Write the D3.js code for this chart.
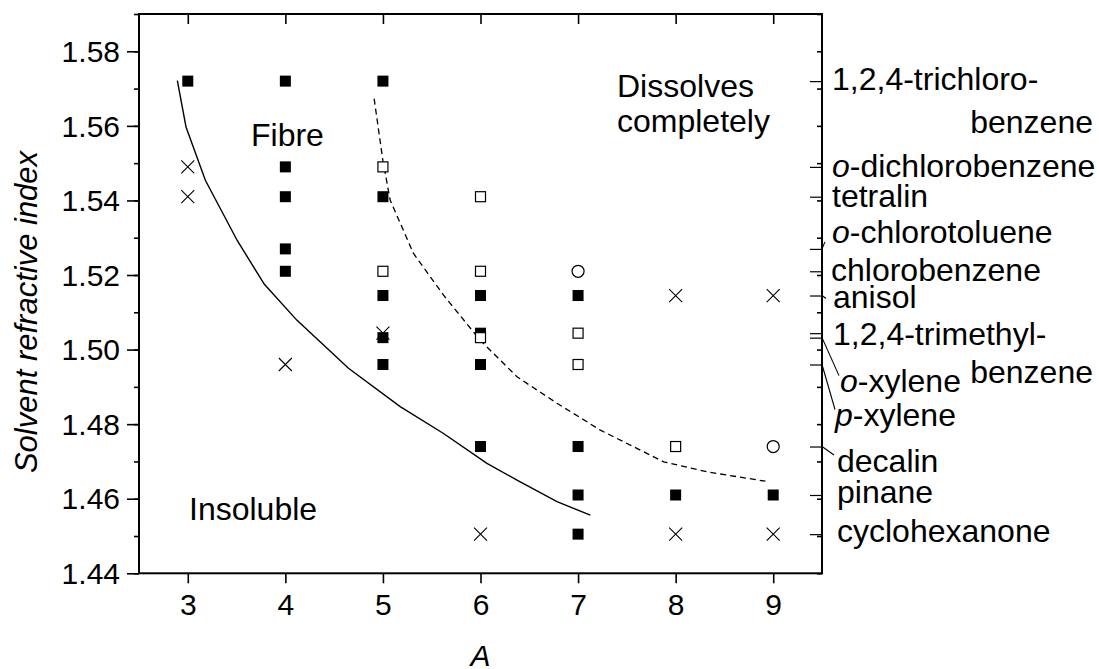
<!DOCTYPE html>
<html>
<head>
<meta charset="utf-8">
<script src="https://cdn.jsdelivr.net/npm/d3@7"></script>
<style>
body { margin: 0; background: #fff; }
text { font-family: "Liberation Sans", Arial, Helvetica, sans-serif; fill: #000; }
</style>
</head>
<body>
<svg id="chart" width="1099" height="669"></svg>
<script>
// x axis: A, y axis: solvent refractive index
const aTicks = [3, 4, 5, 6, 7, 8, 9];
const nTicks = [1.44, 1.46, 1.48, 1.50, 1.52, 1.54, 1.56, 1.58];

// solvents on the right axis
const solventNames = ['1,2,4-trichloro-', 'o-dichlorobenzene', 'tetralin', 'o-chlorotoluene',
    'chlorobenzene', 'anisol', '1,2,4-trimethyl-', 'o-xylene', 'p-xylene', 'decalin', 'pinane', 'cyclohexanone'];
const solventSecond = ['benzene', '', '', '', '', '', 'benzene', '', '', '', '', ''];
const solventN = [1.572, 1.549, 1.541, 1.527, 1.521, 1.5145, 1.5044, 1.5032, 1.496, 1.474, 1.461, 1.4505];

// markers
const filledSq = [[3, 1.572], [4, 1.572], [4, 1.549], [4, 1.541], [4, 1.527], [4, 1.521],
    [5, 1.572], [5, 1.541], [5, 1.5145], [5, 1.5032], [5, 1.496],
    [6, 1.5145], [6, 1.5044], [6, 1.496], [6, 1.474],
    [7, 1.5145], [7, 1.474], [7, 1.461], [7, 1.4505], [8, 1.461], [9, 1.461]];
const openSq = [[5, 1.549], [5, 1.521], [6, 1.541], [6, 1.521], [6, 1.5032],
    [7, 1.5044], [7, 1.496], [8, 1.474]];
const openCirc = [[7, 1.521], [9, 1.474]];
const crosses = [[3, 1.549], [3, 1.541], [4, 1.496], [5, 1.5044], [6, 1.4505],
    [8, 1.5145], [8, 1.4505], [9, 1.5145], [9, 1.4505]];

// boundary curves
const solidA = [2.893, 2.982, 3.18, 3.508, 3.785, 4.117, 4.647, 5.177, 5.621, 6.066, 6.374, 6.784, 7.126];
const solidN = [1.5721, 1.5597, 1.5454, 1.5292, 1.5175, 1.5079, 1.495, 1.4847, 1.4775, 1.4695, 1.465, 1.4592, 1.4556];
const dashA = [4.91, 4.999, 5.074, 5.313, 5.621, 5.997, 6.374, 6.784, 7.228, 7.877, 8.322, 8.92];
const dashN = [1.5673, 1.5508, 1.5401, 1.5258, 1.5146, 1.5025, 1.4927, 1.4856, 1.4784, 1.4699, 1.4672, 1.4647];

// label layout (px) for the solvent names
const labelX = [832, 832, 832, 832, 831, 833, 833, 840, 835, 837, 837, 837];
const labelDy = [9, 10, 10, -5.5, 10, 12.6, 12, 54, 62, 25, 8, 7.5];
const secondDy = [51.6, 0, 0, 0, 0, 0, 50, 0, 0, 0, 0, 0];
const leaderEnd = [null, null, null, [3, -7], null, [4, 3], null, [17, 38], [13, 45], [12, 8.5], null, null];

const mLeft = 139, mRight = 822, mTop = 14, mBottom = 573.3;

let svg = d3.select('#chart');

let x = d3.scaleLinear().domain([2.5, 9.5]).range([mLeft, mRight]);
let y = d3.scaleLinear().domain([1.44, 1.59]).range([mBottom, mTop]);

const styleAxis = (g) => {
    g.select('.domain').remove();
    g.selectAll('line').attr('stroke', '#000').attr('stroke-width', 1.6);
};

// left axis: major + minor
svg.append('g').attr('transform', `translate(${mLeft},0)`)
    .call(d3.axisLeft(y).tickValues(nTicks).tickSize(12).tickPadding(7).tickFormat(d3.format('.2f')))
    .call(styleAxis)
    .call(g => g.selectAll('text').attr('font-size', 30).attr('dy', '0.34em'));
svg.append('g').attr('transform', `translate(${mLeft},0)`)
    .call(d3.axisLeft(y).ticks(15).tickSize(5).tickFormat(''))
    .call(styleAxis);

// bottom axis
svg.append('g').attr('transform', `translate(0,${mBottom})`)
    .call(d3.axisBottom(x).tickValues(aTicks).tickSize(10).tickPadding(10).tickFormat(d3.format('d')))
    .call(styleAxis)
    .call(g => g.selectAll('text').attr('font-size', 30).attr('dy', '0.71em'));

// top axis, ticks inward
svg.append('g').attr('transform', `translate(0,${mTop})`)
    .call(d3.axisTop(x).tickValues(aTicks).tickSize(-10).tickFormat(''))
    .call(styleAxis);

// right axis: small inward ticks + solvent ticks
svg.append('g').attr('transform', `translate(${mRight},0)`)
    .call(d3.axisRight(y).ticks(15).tickSize(-5).tickFormat(''))
    .call(styleAxis);
svg.append('g').attr('transform', `translate(${mRight},0)`)
    .call(d3.axisRight(y).tickValues(solventN).tickSize(-12).tickFormat(''))
    .call(styleAxis)
    .call(g => g.selectAll('line').attr('stroke-width', 1.2));

// frame
svg.append('rect')
    .attr('x', mLeft).attr('y', mTop)
    .attr('width', mRight - mLeft).attr('height', mBottom - mTop)
    .attr('fill', 'none').attr('stroke', '#000').attr('stroke-width', 2);

// axis titles
svg.append('text')
    .attr('x', (mLeft + mRight) / 2).attr('y', 666)
    .attr('text-anchor', 'middle').attr('font-size', 30).attr('font-style', 'italic')
    .text('A');
svg.append('text')
    .attr('transform', 'translate(37,312) rotate(-90)')
    .attr('text-anchor', 'middle').attr('font-size', 31).attr('font-style', 'italic')
    .text('Solvent refractive index');

// curves
let line = d3.line().x(d => x(d[0])).y(d => y(d[1]));
svg.append('path')
    .attr('d', line(solidA.map((a, i) => [a, solidN[i]])))
    .attr('fill', 'none').attr('stroke', '#000').attr('stroke-width', 1.4);
svg.append('path')
    .attr('d', line(dashA.map((a, i) => [a, dashN[i]])))
    .attr('fill', 'none').attr('stroke', '#000').attr('stroke-width', 1.3)
    .attr('stroke-dasharray', '6,4');

// markers
let cr = 6.5;
svg.append('g').selectAll('path')
    .data(crosses).enter().append('path')
    .attr('d', d => `M${x(d[0]) - cr},${y(d[1]) - cr}L${x(d[0]) + cr},${y(d[1]) + cr}M${x(d[0]) - cr},${y(d[1]) + cr}L${x(d[0]) + cr},${y(d[1]) - cr}`)
    .attr('stroke', '#000').attr('stroke-width', 1.1).attr('fill', 'none');

svg.append('g').selectAll('rect')
    .data(filledSq).enter().append('rect')
    .attr('x', d => x(d[0]) - 5.5).attr('y', d => y(d[1]) - 5.5)
    .attr('width', 11).attr('height', 11).attr('fill', '#000');

svg.append('g').selectAll('rect')
    .data(openSq).enter().append('rect')
    .attr('x', d => x(d[0]) - 5).attr('y', d => y(d[1]) - 5)
    .attr('width', 10).attr('height', 10)
    .attr('fill', '#fff').attr('stroke', '#000').attr('stroke-width', 1.2);

svg.append('g').selectAll('circle')
    .data(openCirc).enter().append('circle')
    .attr('cx', d => x(d[0])).attr('cy', d => y(d[1])).attr('r', 6)
    .attr('fill', '#fff').attr('stroke', '#000').attr('stroke-width', 1.2);

// region annotations
svg.append('text').attr('x', 251).attr('y', 146).attr('font-size', 32).text('Fibre');
svg.append('text').attr('x', 189).attr('y', 520).attr('font-size', 32).text('Insoluble');
svg.append('text').attr('x', 617).attr('y', 97).attr('font-size', 32).text('Dissolves');
svg.append('text').attr('x', 617).attr('y', 132).attr('font-size', 32).text('completely');

// solvent labels
let labels = svg.append('g');
solventNames.forEach((name, i) => {
    let ty = y(solventN[i]);
    let t = labels.append('text')
        .attr('x', labelX[i]).attr('y', ty + labelDy[i]).attr('font-size', 32);
    let m = name.match(/^([op])(-.*)$/);
    if (m) {
        t.append('tspan').attr('font-style', 'italic').text(m[1]);
        t.append('tspan').text(m[2]);
    } else {
        t.text(name);
    }
    if (solventSecond[i]) {
        labels.append('text')
            .attr('x', 1093).attr('y', ty + secondDy[i])
            .attr('text-anchor', 'end').attr('font-size', 32)
            .text(solventSecond[i]);
    }
    if (leaderEnd[i]) {
        labels.append('line')
            .attr('x1', mRight).attr('y1', ty)
            .attr('x2', mRight + leaderEnd[i][0]).attr('y2', ty + leaderEnd[i][1])
            .attr('stroke', '#000').attr('stroke-width', 1.1);
    }
});
</script>
</body>
</html>
